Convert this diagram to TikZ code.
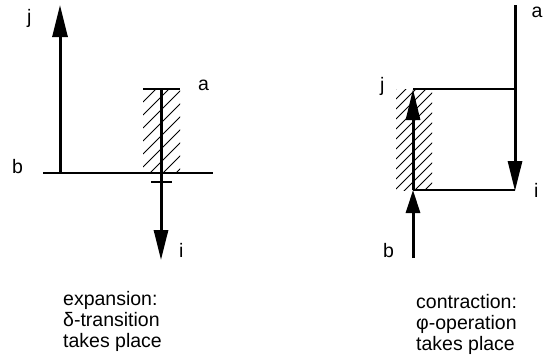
\documentclass[tikz,border=0pt]{standalone}
\usepackage{fontspec}
\setmainfont{Liberation Sans}
\usetikzlibrary{arrows.meta}
\begin{document}
\begin{tikzpicture}[x=1pt,y=-1pt,
  heavy/.style={line width=3pt},
  thinline/.style={line width=1.5pt},
  hatchline/.style={line width=0.9pt},
  bigtip/.style={-{Triangle[length=30pt,width=14pt]}},
  lbl/.style={anchor=base west,inner sep=0pt,font=\fontsize{19.5}{21}\selectfont},
  caption/.style={anchor=base west,inner sep=0pt,align=left,font=\fontsize{19.5}{21}\selectfont}]
\useasboundingbox (0,0) rectangle (543,360);
% ---------- left diagram ----------
\coordinate (jtip) at (60,5);
\coordinate (jbase) at (60,173);
\coordinate (bL) at (43,173);
\coordinate (bR) at (213,173);
\coordinate (hTL) at (143,89);
\coordinate (hTR) at (180,89);
\coordinate (aTop) at (161,89);
\coordinate (iTip) at (161,260);
\coordinate (tickL) at (151,182);
\coordinate (tickR) at (172,182);
\begin{scope}
  \clip (143,89) rectangle (180,173);
  \foreach \k in {0,...,10} \draw[hatchline] (143,{89+13*\k}) -- ++(60,-60);
\end{scope}
\draw[thinline] (bL) -- (bR);
\draw[heavy,-{Triangle[length=32pt,width=15pt]}] (jbase) -- (jtip);
\draw[line width=2.5pt] (hTL) -- (hTR);
\draw[heavy,bigtip] (aTop) -- (iTip);
\draw[line width=1.8pt] (tickL) -- (tickR);
\node[lbl] (jL) at (27,23) {j};
\node[lbl] (aL) at (198,90) {a};
\node[lbl] (bLl) at (12,173) {b};
\node[lbl] (iL) at (179,257) {i};
\node[caption] (capL) at (63,347) {expansion:\\δ-transition\\takes place};
% ---------- right diagram ----------
\coordinate (aTop2) at (515,5);
\coordinate (iTip2) at (515,191);
\coordinate (topL) at (413,89);
\coordinate (topR) at (515,89);
\coordinate (botL) at (413,190);
\coordinate (botR) at (515,190);
\coordinate (bBot) at (413,258);
\begin{scope}
  \clip (396,89) rectangle (432,190);
  \foreach \k in {0,...,14} \draw[hatchline] (396,{89+10*\k}) -- ++(60,-60);
\end{scope}
\draw[thinline] (topL) -- (topR);
\draw[thinline] (botL) -- (botR);
\draw[heavy,bigtip] (aTop2) -- (iTip2);
\draw[heavy,-{Triangle[length=31pt,width=14pt]}] (botL) -- (topL);
\draw[heavy,-{Triangle[length=23pt,width=14pt]}] (bBot) -- (botL);
\node[lbl] (aR) at (531.5,17) {a};
\node[lbl] (iR) at (534,197) {i};
\node[lbl] (jR) at (380,91) {j};
\node[lbl] (bRr) at (383,257) {b};
\node[caption] (capR) at (416,350) {contraction:\\φ-operation\\takes place};
\end{tikzpicture}
\end{document}
